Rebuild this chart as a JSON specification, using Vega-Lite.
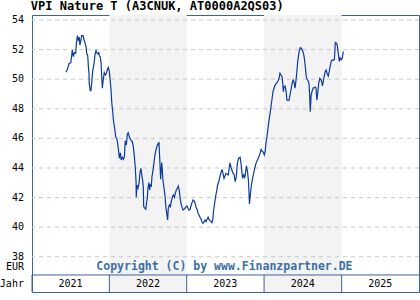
{
  "$schema": "https://vega.github.io/schema/vega-lite/v6.json",
  "width": 387,
  "height": 277,
  "autosize": {"type": "none"},
  "padding": {"left": 32, "top": 15, "right": 1, "bottom": 8},
  "background": "white",
  "title": {"text": "VPI Nature T (A3CNUK, AT0000A2QS03)", "anchor": "start", "font": "DejaVu Sans Mono", "fontSize": 12, "fontWeight": "bold", "color": "#000000", "offset": 2, "dx": 31},
  "config": {"view": {"stroke": "#3c6496", "strokeWidth": 1}, "font": "DejaVu Sans Mono"},
  "datasets": {
    "years": [
      {"year": "2021", "start": "2021-01-01", "end": "2022-01-01", "mid": "2021-07-02"},
      {"year": "2022", "start": "2022-01-01", "end": "2023-01-01", "mid": "2022-07-02"},
      {"year": "2023", "start": "2023-01-01", "end": "2024-01-01", "mid": "2023-07-02"},
      {"year": "2024", "start": "2024-01-01", "end": "2025-01-01", "mid": "2024-07-02"},
      {"year": "2025", "start": "2025-01-01", "end": "2026-01-01", "mid": "2025-07-02"}
    ],
    "ylabels": [
      {"label": "54", "v": 54}, {"label": "52", "v": 52}, {"label": "50", "v": 50},
      {"label": "48", "v": 48}, {"label": "46", "v": 46}, {"label": "44", "v": 44},
      {"label": "42", "v": 42}, {"label": "40", "v": 40}, {"label": "38", "v": 38},
      {"label": "EUR", "v": 37.29},
      {"label": "Jahr", "v": 36.19}
    ],
    "prices": [
      {"d": "2021-06-10", "v": 50.47}, {"d": "2021-06-17", "v": 50.67}, {"d": "2021-06-25", "v": 51.07}, {"d": "2021-07-03", "v": 51.11},
      {"d": "2021-07-07", "v": 51.57}, {"d": "2021-07-10", "v": 51.97}, {"d": "2021-07-15", "v": 51.52}, {"d": "2021-07-20", "v": 51.79},
      {"d": "2021-07-26", "v": 51.75}, {"d": "2021-07-29", "v": 52.31}, {"d": "2021-08-03", "v": 52.94}, {"d": "2021-08-07", "v": 52.65},
      {"d": "2021-08-12", "v": 52.83}, {"d": "2021-08-15", "v": 52.31}, {"d": "2021-08-20", "v": 52.65}, {"d": "2021-08-23", "v": 52.94},
      {"d": "2021-08-30", "v": 52.94}, {"d": "2021-09-03", "v": 52.70}, {"d": "2021-09-08", "v": 52.47}, {"d": "2021-09-13", "v": 52.20},
      {"d": "2021-09-16", "v": 51.75}, {"d": "2021-09-21", "v": 51.57}, {"d": "2021-09-24", "v": 50.84}, {"d": "2021-09-27", "v": 50.35},
      {"d": "2021-09-28", "v": 49.72}, {"d": "2021-10-03", "v": 49.22}, {"d": "2021-10-06", "v": 49.22}, {"d": "2021-10-10", "v": 49.76},
      {"d": "2021-10-14", "v": 50.51}, {"d": "2021-10-21", "v": 51.07}, {"d": "2021-10-25", "v": 51.64}, {"d": "2021-10-30", "v": 51.93},
      {"d": "2021-11-04", "v": 51.75}, {"d": "2021-11-07", "v": 51.70}, {"d": "2021-11-12", "v": 51.79}, {"d": "2021-11-15", "v": 51.57},
      {"d": "2021-11-19", "v": 51.52}, {"d": "2021-11-23", "v": 51.07}, {"d": "2021-11-26", "v": 50.17}, {"d": "2021-11-29", "v": 49.39},
      {"d": "2021-12-03", "v": 49.95}, {"d": "2021-12-08", "v": 50.44}, {"d": "2021-12-13", "v": 50.28}, {"d": "2021-12-18", "v": 50.40},
      {"d": "2021-12-22", "v": 50.62}, {"d": "2021-12-27", "v": 50.80}, {"d": "2022-01-01", "v": 50.51}, {"d": "2022-01-04", "v": 50.06},
      {"d": "2022-01-09", "v": 49.27}, {"d": "2022-01-12", "v": 48.48}, {"d": "2022-01-17", "v": 47.80}, {"d": "2022-01-20", "v": 47.24},
      {"d": "2022-01-26", "v": 46.68}, {"d": "2022-01-31", "v": 46.11}, {"d": "2022-02-05", "v": 46.01}, {"d": "2022-02-09", "v": 45.67},
      {"d": "2022-02-14", "v": 45.10}, {"d": "2022-02-17", "v": 44.66}, {"d": "2022-02-22", "v": 45.03}, {"d": "2022-02-26", "v": 44.54},
      {"d": "2022-03-03", "v": 44.72}, {"d": "2022-03-08", "v": 44.59}, {"d": "2022-03-13", "v": 44.76}, {"d": "2022-03-17", "v": 45.84},
      {"d": "2022-03-22", "v": 45.55}, {"d": "2022-03-27", "v": 46.30}, {"d": "2022-03-31", "v": 46.39}, {"d": "2022-04-05", "v": 46.11},
      {"d": "2022-04-10", "v": 45.94}, {"d": "2022-04-15", "v": 45.84}, {"d": "2022-04-19", "v": 45.78}, {"d": "2022-04-24", "v": 45.44},
      {"d": "2022-04-29", "v": 44.76}, {"d": "2022-05-03", "v": 44.09}, {"d": "2022-05-07", "v": 43.07}, {"d": "2022-05-08", "v": 42.02},
      {"d": "2022-05-11", "v": 42.85}, {"d": "2022-05-16", "v": 42.63}, {"d": "2022-05-21", "v": 42.97}, {"d": "2022-05-26", "v": 43.75},
      {"d": "2022-05-30", "v": 43.98}, {"d": "2022-06-03", "v": 43.53}, {"d": "2022-06-07", "v": 43.19}, {"d": "2022-06-10", "v": 42.74},
      {"d": "2022-06-12", "v": 41.39}, {"d": "2022-06-17", "v": 41.28}, {"d": "2022-06-22", "v": 41.21}, {"d": "2022-06-26", "v": 41.72},
      {"d": "2022-06-29", "v": 41.95}, {"d": "2022-07-02", "v": 42.63}, {"d": "2022-07-07", "v": 43.01}, {"d": "2022-07-10", "v": 42.51},
      {"d": "2022-07-13", "v": 42.85}, {"d": "2022-07-18", "v": 42.78}, {"d": "2022-07-21", "v": 43.41}, {"d": "2022-07-26", "v": 43.86},
      {"d": "2022-07-31", "v": 44.43}, {"d": "2022-08-04", "v": 44.88}, {"d": "2022-08-09", "v": 45.22}, {"d": "2022-08-14", "v": 45.49},
      {"d": "2022-08-19", "v": 45.67}, {"d": "2022-08-23", "v": 45.71}, {"d": "2022-08-27", "v": 44.54}, {"d": "2022-08-31", "v": 43.24},
      {"d": "2022-09-05", "v": 44.36}, {"d": "2022-09-08", "v": 43.86}, {"d": "2022-09-11", "v": 43.14}, {"d": "2022-09-16", "v": 42.63},
      {"d": "2022-09-21", "v": 42.06}, {"d": "2022-09-25", "v": 41.28}, {"d": "2022-09-30", "v": 40.82}, {"d": "2022-10-03", "v": 40.49},
      {"d": "2022-10-06", "v": 41.28}, {"d": "2022-10-11", "v": 41.50}, {"d": "2022-10-16", "v": 41.39}, {"d": "2022-10-20", "v": 41.72},
      {"d": "2022-10-25", "v": 42.02}, {"d": "2022-10-30", "v": 42.18}, {"d": "2022-11-04", "v": 42.02}, {"d": "2022-11-08", "v": 42.29},
      {"d": "2022-11-13", "v": 42.51}, {"d": "2022-11-20", "v": 42.70}, {"d": "2022-11-22", "v": 42.78}, {"d": "2022-11-27", "v": 42.47},
      {"d": "2022-11-30", "v": 42.06}, {"d": "2022-12-05", "v": 41.61}, {"d": "2022-12-10", "v": 41.34}, {"d": "2022-12-15", "v": 41.16},
      {"d": "2022-12-19", "v": 41.21}, {"d": "2022-12-24", "v": 41.28}, {"d": "2022-12-29", "v": 41.39}, {"d": "2023-01-02", "v": 41.43},
      {"d": "2023-01-07", "v": 41.28}, {"d": "2023-01-12", "v": 41.16}, {"d": "2023-01-17", "v": 41.21}, {"d": "2023-01-21", "v": 41.43},
      {"d": "2023-01-26", "v": 41.66}, {"d": "2023-01-31", "v": 41.84}, {"d": "2023-02-04", "v": 41.79}, {"d": "2023-02-09", "v": 41.66},
      {"d": "2023-02-14", "v": 41.34}, {"d": "2023-02-19", "v": 41.21}, {"d": "2023-02-23", "v": 40.98}, {"d": "2023-02-28", "v": 40.82},
      {"d": "2023-03-05", "v": 40.67}, {"d": "2023-03-10", "v": 40.53}, {"d": "2023-03-14", "v": 40.37}, {"d": "2023-03-19", "v": 40.26},
      {"d": "2023-03-24", "v": 40.37}, {"d": "2023-03-28", "v": 40.49}, {"d": "2023-04-02", "v": 40.37}, {"d": "2023-04-07", "v": 40.53},
      {"d": "2023-04-12", "v": 40.67}, {"d": "2023-04-16", "v": 40.53}, {"d": "2023-04-21", "v": 40.44}, {"d": "2023-04-26", "v": 40.37},
      {"d": "2023-04-30", "v": 40.30}, {"d": "2023-05-04", "v": 40.49}, {"d": "2023-05-08", "v": 41.16}, {"d": "2023-05-13", "v": 41.66},
      {"d": "2023-05-18", "v": 42.11}, {"d": "2023-05-23", "v": 42.51}, {"d": "2023-05-27", "v": 42.85}, {"d": "2023-06-01", "v": 43.07},
      {"d": "2023-06-06", "v": 43.37}, {"d": "2023-06-10", "v": 43.59}, {"d": "2023-06-15", "v": 43.86}, {"d": "2023-06-18", "v": 43.86},
      {"d": "2023-06-26", "v": 43.30}, {"d": "2023-07-05", "v": 43.64}, {"d": "2023-07-16", "v": 43.53}, {"d": "2023-07-24", "v": 44.34},
      {"d": "2023-07-29", "v": 44.05}, {"d": "2023-08-06", "v": 43.68}, {"d": "2023-08-12", "v": 43.59}, {"d": "2023-08-18", "v": 43.07},
      {"d": "2023-08-23", "v": 43.41}, {"d": "2023-08-28", "v": 44.32}, {"d": "2023-09-03", "v": 44.66}, {"d": "2023-09-10", "v": 44.72},
      {"d": "2023-09-14", "v": 44.32}, {"d": "2023-09-19", "v": 43.64}, {"d": "2023-09-22", "v": 43.30}, {"d": "2023-09-27", "v": 43.53},
      {"d": "2023-10-02", "v": 43.37}, {"d": "2023-10-06", "v": 43.75}, {"d": "2023-10-10", "v": 44.14}, {"d": "2023-10-15", "v": 43.73},
      {"d": "2023-10-19", "v": 43.19}, {"d": "2023-10-22", "v": 42.29}, {"d": "2023-10-24", "v": 41.57}, {"d": "2023-10-29", "v": 42.31},
      {"d": "2023-11-03", "v": 42.92}, {"d": "2023-11-08", "v": 43.32}, {"d": "2023-11-12", "v": 43.59}, {"d": "2023-11-17", "v": 43.93},
      {"d": "2023-11-22", "v": 44.20}, {"d": "2023-11-26", "v": 44.41}, {"d": "2023-12-01", "v": 44.54}, {"d": "2023-12-07", "v": 44.74},
      {"d": "2023-12-13", "v": 44.99}, {"d": "2023-12-18", "v": 45.26}, {"d": "2023-12-24", "v": 45.10}, {"d": "2023-12-29", "v": 45.08},
      {"d": "2024-01-02", "v": 44.88}, {"d": "2024-01-06", "v": 45.10}, {"d": "2024-01-10", "v": 45.67}, {"d": "2024-01-15", "v": 46.16},
      {"d": "2024-01-20", "v": 46.74}, {"d": "2024-01-24", "v": 47.18}, {"d": "2024-01-29", "v": 47.65}, {"d": "2024-02-03", "v": 48.19},
      {"d": "2024-02-08", "v": 48.71}, {"d": "2024-02-12", "v": 49.16}, {"d": "2024-02-17", "v": 49.39}, {"d": "2024-02-22", "v": 49.61},
      {"d": "2024-02-26", "v": 49.68}, {"d": "2024-03-02", "v": 49.76}, {"d": "2024-03-07", "v": 49.90}, {"d": "2024-03-12", "v": 50.06},
      {"d": "2024-03-16", "v": 50.40}, {"d": "2024-03-21", "v": 50.28}, {"d": "2024-03-26", "v": 50.17}, {"d": "2024-03-29", "v": 49.72},
      {"d": "2024-04-01", "v": 49.16}, {"d": "2024-04-04", "v": 49.49}, {"d": "2024-04-09", "v": 49.54}, {"d": "2024-04-14", "v": 49.16},
      {"d": "2024-04-18", "v": 48.59}, {"d": "2024-04-23", "v": 48.55}, {"d": "2024-04-28", "v": 48.59}, {"d": "2024-05-02", "v": 48.93},
      {"d": "2024-05-07", "v": 49.27}, {"d": "2024-05-12", "v": 49.72}, {"d": "2024-05-17", "v": 49.95}, {"d": "2024-05-21", "v": 49.81},
      {"d": "2024-05-26", "v": 49.39}, {"d": "2024-06-02", "v": 50.22}, {"d": "2024-06-07", "v": 51.09}, {"d": "2024-06-12", "v": 51.64},
      {"d": "2024-06-16", "v": 51.94}, {"d": "2024-06-20", "v": 52.14}, {"d": "2024-06-26", "v": 52.06}, {"d": "2024-07-01", "v": 51.91},
      {"d": "2024-07-05", "v": 51.75}, {"d": "2024-07-09", "v": 51.43}, {"d": "2024-07-14", "v": 50.79}, {"d": "2024-07-18", "v": 50.15},
      {"d": "2024-07-23", "v": 49.98}, {"d": "2024-07-27", "v": 49.88}, {"d": "2024-07-31", "v": 49.68}, {"d": "2024-08-03", "v": 48.93},
      {"d": "2024-08-06", "v": 47.80}, {"d": "2024-08-10", "v": 48.93}, {"d": "2024-08-15", "v": 49.20}, {"d": "2024-08-20", "v": 49.41},
      {"d": "2024-08-25", "v": 49.41}, {"d": "2024-08-29", "v": 49.47}, {"d": "2024-09-02", "v": 49.41}, {"d": "2024-09-06", "v": 48.59},
      {"d": "2024-09-10", "v": 49.05}, {"d": "2024-09-15", "v": 49.74}, {"d": "2024-09-20", "v": 50.06}, {"d": "2024-09-25", "v": 49.98},
      {"d": "2024-09-30", "v": 49.78}, {"d": "2024-10-02", "v": 49.54}, {"d": "2024-10-06", "v": 49.81}, {"d": "2024-10-11", "v": 50.22},
      {"d": "2024-10-16", "v": 50.55}, {"d": "2024-10-20", "v": 50.62}, {"d": "2024-10-25", "v": 50.35}, {"d": "2024-10-30", "v": 50.22},
      {"d": "2024-11-03", "v": 50.49}, {"d": "2024-11-08", "v": 50.89}, {"d": "2024-11-13", "v": 51.23}, {"d": "2024-11-18", "v": 51.30},
      {"d": "2024-11-23", "v": 51.28}, {"d": "2024-11-28", "v": 51.33}, {"d": "2024-12-02", "v": 52.48}, {"d": "2024-12-07", "v": 52.45},
      {"d": "2024-12-11", "v": 52.31}, {"d": "2024-12-16", "v": 51.77}, {"d": "2024-12-21", "v": 51.20}, {"d": "2024-12-25", "v": 51.43},
      {"d": "2024-12-30", "v": 51.32}, {"d": "2025-01-04", "v": 51.41}, {"d": "2025-01-09", "v": 51.87}
    ]
  },
  "layer": [
    {
      "data": {"name": "years"},
      "transform": [{"filter": "datum.year == '2022' || datum.year == '2024'"}],
      "mark": {"type": "rect", "color": "#f3f3f3"},
      "encoding": {
        "x": {"field": "start", "type": "temporal", "scale": {"domain": [{"year": 2021, "month": 1, "date": 1}, {"year": 2026, "month": 1, "date": 1}], "nice": false}, "axis": null},
        "x2": {"field": "end"}
      }
    },
    {
      "data": {"name": "ylabels"},
      "transform": [{"filter": "datum.v >= 38"}],
      "mark": {"type": "rule", "color": "#c8c8c8", "strokeWidth": 1, "strokeDash": [4, 4]},
      "encoding": {
        "y": {"field": "v", "type": "quantitative", "scale": {"domain": [35.62, 54.338], "nice": false, "zero": false}, "axis": null}
      }
    },
    {
      "data": {"name": "prices"},
      "mark": {"type": "line", "color": "#0b3a9e", "strokeWidth": 1.2},
      "encoding": {
        "x": {"field": "d", "type": "temporal", "scale": {"domain": [{"year": 2021, "month": 1, "date": 1}, {"year": 2026, "month": 1, "date": 1}], "nice": false}, "axis": null},
        "y": {"field": "v", "type": "quantitative", "scale": {"domain": [35.62, 54.338], "nice": false, "zero": false}, "axis": null}
      }
    },
    {
      "data": {"values": [{}]},
      "mark": {"type": "rule", "color": "#3c6496", "strokeWidth": 1},
      "encoding": {"y": {"datum": 36.77}}
    },
    {
      "data": {"name": "years"},
      "mark": {"type": "rule", "color": "#3c6496", "strokeWidth": 1},
      "encoding": {
        "x": {"field": "start", "type": "temporal"},
        "y": {"datum": 36.77},
        "y2": {"datum": 35.62}
      }
    },
    {
      "data": {"name": "years"},
      "mark": {"type": "text", "font": "DejaVu Sans Mono", "fontSize": 10, "color": "#000000", "baseline": "middle", "align": "center"},
      "encoding": {
        "x": {"field": "mid", "type": "temporal"},
        "y": {"datum": 36.19},
        "text": {"field": "year"}
      }
    },
    {
      "data": {"name": "ylabels"},
      "mark": {"type": "text", "font": "DejaVu Sans Mono", "fontSize": 10, "color": "#000000", "baseline": "middle", "align": "right", "clip": false},
      "encoding": {
        "x": {"datum": {"year": 2020, "month": 11, "date": 24}},
        "y": {"field": "v", "type": "quantitative"},
        "text": {"field": "label"}
      }
    },
    {
      "data": {"values": [{"label": "Copyright (C) by www.Finanzpartner.DE"}]},
      "mark": {"type": "text", "font": "DejaVu Sans Mono", "fontSize": 11.5, "fontWeight": "bold", "color": "#3d6fa5", "baseline": "middle", "align": "center"},
      "encoding": {
        "x": {"datum": {"year": 2023, "month": 6, "date": 28}},
        "y": {"datum": 37.29},
        "text": {"field": "label"}
      }
    }
  ]
}
